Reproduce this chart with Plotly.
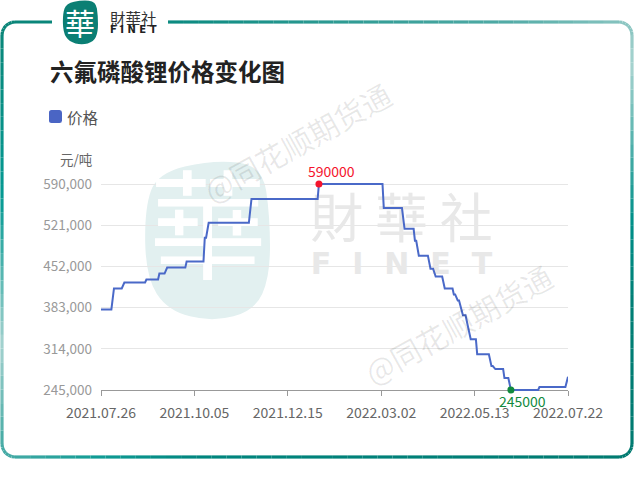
import math
import plotly.graph_objects as go

# ---- data ----
title_text = "六氟磷酸锂价格变化图"
series_name = "价格"
unit_label = "元/吨"
trade_index = [0, 8, 10, 16, 18, 34, 35, 44, 45, 49, 51, 65, 66, 79, 80, 81, 83, 114, 116, 167, 168, 217, 218, 232, 234, 241, 242, 243, 245, 252, 254, 256, 258, 263, 265, 271, 272, 273, 275, 276, 279, 281, 285, 289, 290, 299, 301, 302, 304, 310, 311, 314, 316, 337, 338, 358, 360]
price = [380000, 380000, 415000, 415000, 425000, 425000, 430000, 430000, 440000, 440000, 450000, 450000, 460000, 460000, 500000, 500000, 525000, 525000, 565000, 565000, 590000, 590000, 550000, 550000, 515000, 515000, 495000, 495000, 470000, 470000, 448000, 448000, 435000, 435000, 415000, 415000, 405000, 405000, 395000, 395000, 370000, 370000, 330000, 330000, 305000, 305000, 285000, 285000, 280000, 280000, 265000, 265000, 245000, 245000, 250000, 250000, 267000]
x_tick_pos = [0, 72, 144, 216, 288, 360]
x_tick_labels = ["2021.07.26", "2021.10.05", "2021.12.15", "2022.03.02", "2022.05.13", "2022.07.22"]
y_ticks = [245000, 314000, 383000, 452000, 521000, 590000]
max_point = (168, 590000)
min_point = (316, 245000)

# ---- layout geometry (pixels) ----
W, H = 634, 479
L, R = 101, 568
T0, B0 = 184, 390   # pixel rows of the top and bottom ticks
T, B = 174, 400     # plotting area, slightly larger so the line is not clipped
Y_LOW, Y_HIGH, XMAX = 245000, 590000, 360
PER_PX = (Y_HIGH - Y_LOW) / (B0 - T0)
YMIN = Y_LOW - (B - B0) * PER_PX
YMAX = Y_HIGH + (T0 - T) * PER_PX
CJK = "Noto Sans CJK SC"
TC = "Noto Sans CJK TC"
def px(x): return (x - L) / (R - L)
def py(y): return (B - y) / (B - T)
def dx(x): return (x - L) / (R - L) * XMAX
def dy(y): return YMIN + (B - y) / (B - T) * (YMAX - YMIN)

def rgb(h):
    return tuple(int(h[i:i + 2], 16) for i in (1, 3, 5))
def ramp(stops, v):
    if v <= stops[0][0]:
        return "rgb(%d,%d,%d)" % rgb(stops[0][1])
    for (p0, c0), (p1, c1) in zip(stops, stops[1:]):
        if v <= p1:
            t = (v - p0) / (p1 - p0)
            return "rgb(%d,%d,%d)" % tuple(round(a + (b - a) * t) for a, b in zip(rgb(c0), rgb(c1)))
    return "rgb(%d,%d,%d)" % rgb(stops[-1][1])

LEFT = [(20, "#0a8578"), (200, "#059a93"), (345, "#a5d2cf"), (450, "#3fa8a2")]
BOTTOM = [(10, "#45aaa5"), (100, "#0f9b94"), (200, "#00857e"), (634, "#007a70")]
RIGHT = [(25, "#8cc6c2"), (65, "#a8d4d0"), (220, "#009089"), (300, "#007f76"), (457, "#007a70")]
TOP = [(0, "#0a8578"), (168, "#0a8a80"), (500, "#4faaa5"), (634, "#8cc6c2")]

shapes = []
def seg(x0, y0, x1, y1, color):
    shapes.append(dict(type="line", xref="paper", yref="paper", x0=px(x0), y0=py(y0), x1=px(x1), y1=py(y1),
                       line=dict(color=color, width=3.2), layer="below"))
def run(p0, p1, n, stops, axis):
    for i in range(n):
        a, b = i / n, (i + 1) / n
        x0, y0 = p0[0] + (p1[0] - p0[0]) * a, p0[1] + (p1[1] - p0[1]) * a
        x1, y1 = p0[0] + (p1[0] - p0[0]) * b, p0[1] + (p1[1] - p0[1]) * b
        v = (x0 + x1) / 2 if axis == "x" else (y0 + y1) / 2
        seg(x0, y0, x1, y1, ramp(stops, v))

fx0, fx1, fy0, fy1, r = 2, 632, 22, 457, 13
run((52, fy0), (fx0 + r, fy0), 1, TOP, "x")
run((168, fy0), (fx1 - r, fy0), 30, TOP, "x")
run((fx1, fy0 + r), (fx1, fy1 - r), 30, RIGHT, "y")
run((fx1 - r, fy1), (fx0 + r, fy1), 40, BOTTOM, "x")
run((fx0, fy1 - r), (fx0, fy0 + r), 30, LEFT, "y")
corner_colors = [(fx0 + r, fy0 + r, 180, "#0a8578"), (fx1 - r, fy0 + r, 270, "#8cc6c2"),
                 (fx1 - r, fy1 - r, 0, "#007a70"), (fx0 + r, fy1 - r, 90, "#45aaa5")]
for cx, cy, a0, col in corner_colors:
    for i in range(6):
        t0, t1 = math.radians(a0 + 15 * i), math.radians(a0 + 15 * (i + 1))
        seg(cx + r * math.cos(t0), cy + r * math.sin(t0), cx + r * math.cos(t1), cy + r * math.sin(t1), col)

def blob(x0, y0, x1, y1, color, layer):
    w, h = x1 - x0, y1 - y0
    pts = [(0.02, 0.30), (0.12, 0.08), (0.55, 0.0), (0.94, 0.03), (1.0, 0.35), (1.0, 0.72), (0.88, 0.93), (0.55, 1.0), (0.20, 0.93), (0.03, 0.72)]
    X = lambda v: px(x0 + v * w)
    Y = lambda v: py(y0 + v * h)
    d = "M %f,%f " % (X((pts[0][0] + pts[-1][0]) / 2), Y((pts[0][1] + pts[-1][1]) / 2))
    n = len(pts)
    for i in range(n):
        p, q = pts[i], pts[(i + 1) % n]
        mx, my = (p[0] + q[0]) / 2, (p[1] + q[1]) / 2
        d += "Q %f,%f %f,%f " % (X(p[0]), Y(p[1]), X(mx), Y(my))
    d += "Z"
    shapes.append(dict(type="path", xref="paper", yref="paper", path=d, fillcolor=color, line=dict(width=0), layer=layer))

blob(62, 0, 98, 45, "#0b7f74", "above")
blob(142, 160, 270, 322, "#e2f0f0", "below")
sx0, sx1, sy0, sy1, sr = 49, 62, 110, 123, 2.5
shapes.append(dict(type="path", xref="paper", yref="paper", fillcolor="#4a65c4", line=dict(width=0),
    path=("M %f,%f L %f,%f Q %f,%f %f,%f L %f,%f Q %f,%f %f,%f L %f,%f Q %f,%f %f,%f L %f,%f Q %f,%f %f,%f Z" % (
        px(sx0 + sr), py(sy0), px(sx1 - sr), py(sy0), px(sx1), py(sy0), px(sx1), py(sy0 + sr),
        px(sx1), py(sy1 - sr), px(sx1), py(sy1), px(sx1 - sr), py(sy1),
        px(sx0 + sr), py(sy1), px(sx0), py(sy1), px(sx0), py(sy1 - sr),
        px(sx0), py(sy0 + sr), px(sx0), py(sy0), px(sx0 + sr), py(sy0)))))

def note(text, x, y, size, color, anchor="left", font=CJK, angle=0, bold=False):
    s = "<b>%s</b>" % text if bold else text
    return dict(text=s, xref="paper", yref="paper", x=px(x), y=py(y), xanchor=anchor, yanchor="middle",
                showarrow=False, textangle=angle, font=dict(family=font, size=size, color=color))

annotations = [
    note("@同花顺期货通", 297, 142, 30, "rgba(0,0,0,0.09)", "center", angle=-29),
    note("@同花顺期货通", 458, 324, 30, "rgba(0,0,0,0.09)", "center", angle=-29),
    note("華", 80, 22, 30, "#ffffff", "center", TC),
    note("財華社", 133, 18, 15.5, "#333333", "center", TC),
    note("F I N E T", 133, 29, 10, "#222222", "center", "DejaVu Sans", bold=True),
    note(title_text, 48, 71.5, 23.5, "#222222", bold=True),
    note(series_name, 65, 116.5, 15.5, "#555555"),
    note(unit_label, 94, 158.5, 13.5, "#666666", "right"),
    dict(text=str(max_point[1]), x=max_point[0], y=max_point[1], xref="x", yref="y", showarrow=False,
         xshift=13, yshift=13, font=dict(family=CJK, size=14, color="#f5142d")),
    dict(text=str(min_point[1]), x=min_point[0], y=min_point[1], xref="x", yref="y", showarrow=False,
         xshift=12, yshift=-11, font=dict(family=CJK, size=14, color="#118a3e")),
]

def backdrop(text, x, y, size, color, font, bold=False):
    return go.Scatter(x=[dx(x)], y=[dy(y)], mode="text", text=["<b>%s</b>" % text if bold else text],
                      textposition="middle center", textfont=dict(family=font, size=size, color=color),
                      showlegend=False, cliponaxis=False, hoverinfo="skip")

fig = go.Figure()
fig.add_trace(backdrop("華", 208, 240, 118, "#ffffff", TC))
fig.add_trace(backdrop("財 華 社", 401.5, 225, 53, "#e8e8e8", TC))
fig.add_trace(backdrop("F  I  N  E  T", 401.5, 266, 30, "#e8e8e8", "DejaVu Sans", bold=True))
fig.add_trace(go.Scatter(x=trade_index, y=price, mode="lines", name=series_name,
                         line=dict(color="#4a69c8", width=2), showlegend=False, cliponaxis=False))
fig.add_trace(go.Scatter(x=[max_point[0]], y=[max_point[1]], mode="markers",
                         marker=dict(color="#f5142d", size=7), showlegend=False, cliponaxis=False))
fig.add_trace(go.Scatter(x=[min_point[0]], y=[min_point[1]], mode="markers",
                         marker=dict(color="#118a3e", size=7), showlegend=False, cliponaxis=False))

fig.update_layout(
    width=W, height=H, autosize=False, paper_bgcolor="white", plot_bgcolor="rgba(0,0,0,0)",
    margin=dict(l=L, r=W - R, t=T, b=H - B, pad=0),
    shapes=shapes, annotations=annotations, font=dict(family=CJK),
    xaxis=dict(range=[0, XMAX], tickvals=x_tick_pos, ticktext=x_tick_labels, showgrid=False, zeroline=False,
               anchor="free", position=py(B0),
               showline=True, linecolor="#999999", linewidth=1, ticks="outside", ticklen=5, tickcolor="#999999",
               ticklabelstandoff=5, layer="below traces", tickfont=dict(family=CJK, size=14, color="#666666")),
    yaxis=dict(range=[YMIN, YMAX], tickvals=y_ticks, tickformat=",", showgrid=True, gridcolor="#e6e6e6",
               gridwidth=1, zeroline=False, showline=False, ticks="", ticklabelstandoff=8,
               tickfont=dict(family=CJK, size=13.5, color="#999999")),
)
fig.write_html("out.html", config={"displayModeBar": False}, post_script="document.body.style.margin='0';")
